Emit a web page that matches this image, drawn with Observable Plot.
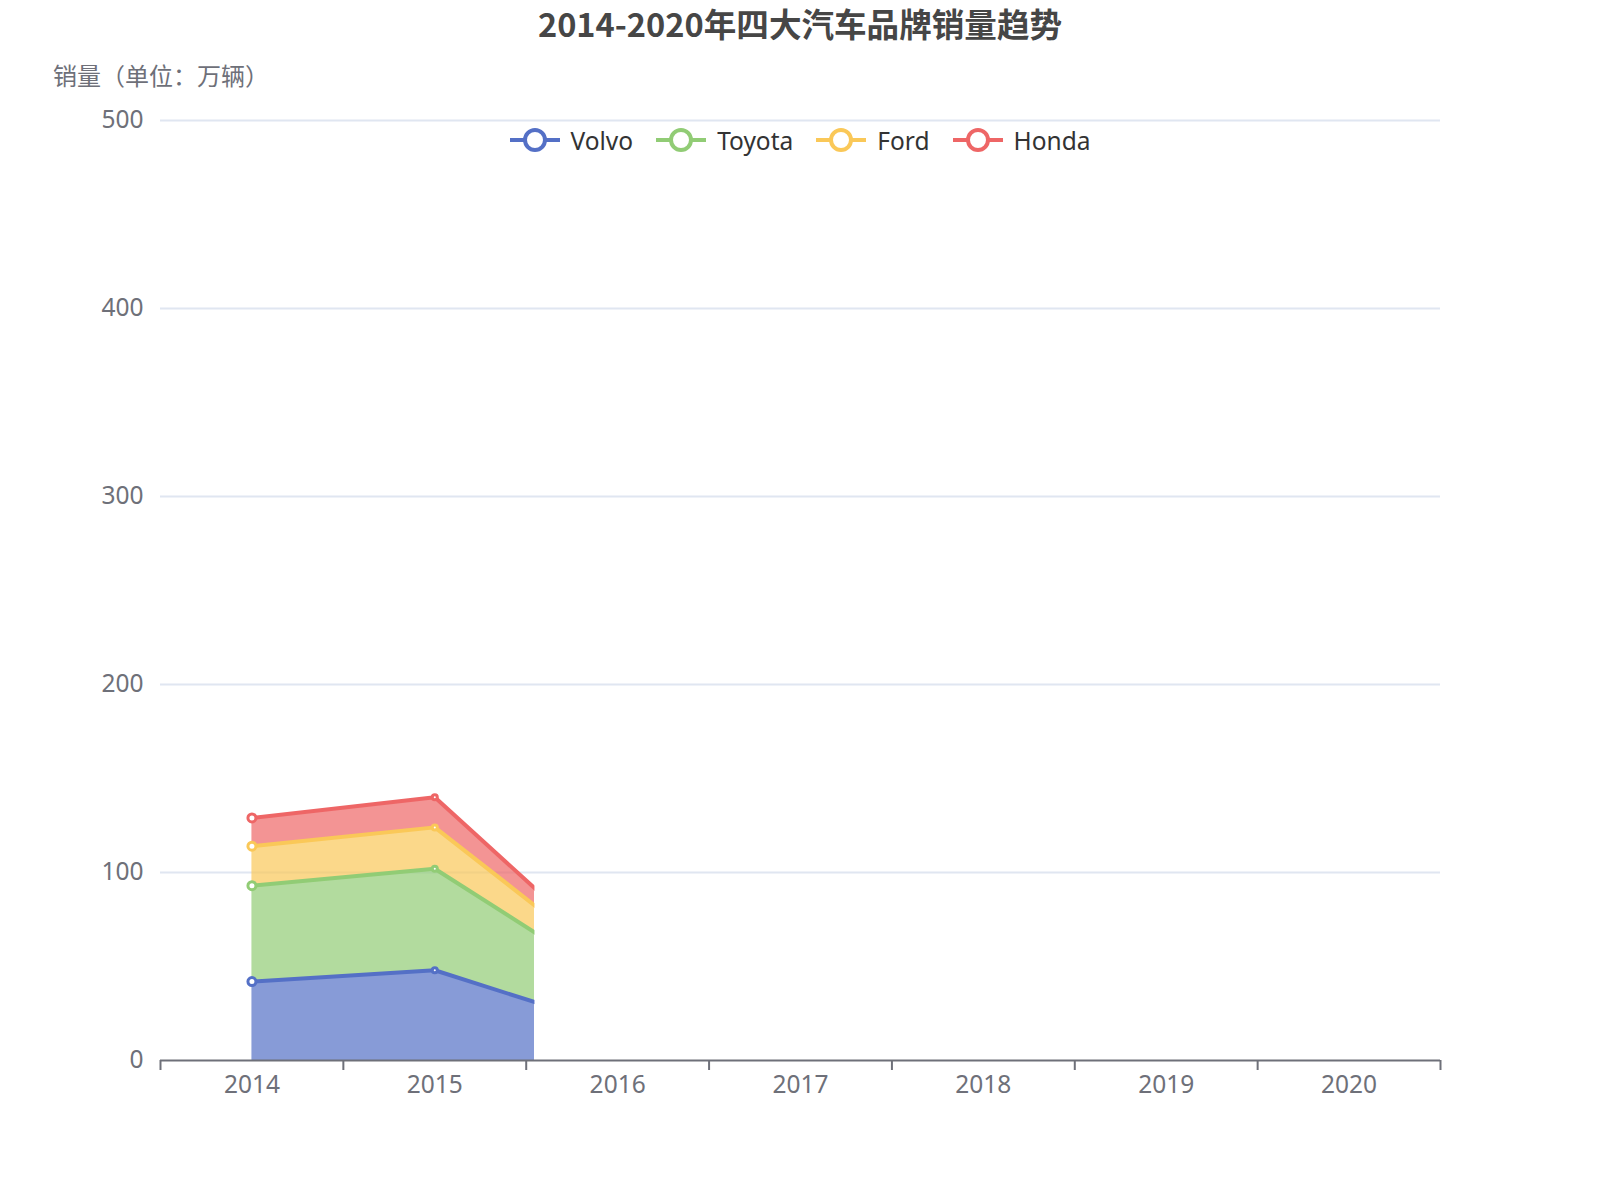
<!DOCTYPE html>
<html>
<head>
<meta charset="utf-8">
<script src="https://cdn.jsdelivr.net/npm/d3@7"></script>
<script src="https://cdn.jsdelivr.net/npm/@observablehq/plot@0.6"></script>
<style>
  body { margin: 0; background: #fff; font-family: "Noto Sans", "Noto Sans CJK SC", sans-serif; }
  #wrap { position: relative; width: 1600px; height: 1200px; overflow: hidden; }
  #chart { position: absolute; left: 0; top: 0; }
  #title { position: absolute; left: 0; top: 1px; width: 1600px; height: 44px; line-height: 44px; text-align: center;
           font-size: 32.6px; font-weight: bold; color: #464646; font-family: "Noto Sans CJK SC", sans-serif; }
  #yname { position: absolute; left: 53px; top: 60px; height: 30px; line-height: 30px; font-size: 24px; color: #6E7079;
           font-family: "Noto Sans CJK SC", sans-serif; white-space: nowrap; }
  #legend { position: absolute; left: 0; top: 123px; width: 1600px; height: 34px; display: flex; justify-content: center;
            align-items: center; gap: 23px; }
  .item { display: flex; align-items: center; gap: 11px; font-size: 24.5px; color: #333; }
  .item svg { display: block; }
</style>
</head>
<body>
<div id="wrap">
  <div id="chart"></div>
  <div id="title"></div>
  <div id="yname"></div>
  <div id="legend"></div>
</div>
<script>
// ---- data ----
const titleText = "2014-2020年四大汽车品牌销量趋势";
const yAxisName = "销量（单位：万辆）";
const years = [2014, 2015, 2016];
const brands = ["Volvo", "Toyota", "Ford", "Honda"];
const volvo = [42, 48, 17];
const toyota = [51, 54, 23];
const ford = [21, 22, 8];
const honda = [15, 16, 3.5];
const colors = ["#5470c6", "#91cc75", "#fac858", "#ee6666"];
const yTicks = [0, 100, 200, 300, 400, 500];
const xLabels = [2014, 2015, 2016, 2017, 2018, 2019, 2020];
// the reference is captured mid-animation: series drawn only up to this x value
const revealedTo = 2015.545;

const seriesByBrand = { Volvo: volvo, Toyota: toyota, Ford: ford, Honda: honda };
const data = brands.flatMap(b => years.map((yr, i) => ({ brand: b, year: yr, value: seriesByBrand[b][i] })));
const boundaries = d3.range(xLabels[0] - 0.5, xLabels[xLabels.length - 1] + 1, 1);

document.getElementById("title").textContent = titleText;
document.getElementById("yname").textContent = yAxisName;

// legend
const legend = document.getElementById("legend");
brands.forEach((b, i) => {
  const item = document.createElement("div");
  item.className = "item";
  item.innerHTML = `<svg width="50" height="28" viewBox="0 0 50 28">
      <line x1="0" x2="50" y1="14" y2="14" stroke="${colors[i]}" stroke-width="4"/>
      <circle cx="25" cy="14" r="10" fill="#fff" stroke="${colors[i]}" stroke-width="4"/>
    </svg><span>${b}</span>`;
  legend.appendChild(item);
});

const plot = Plot.plot({
  width: 1600,
  height: 1200,
  marginTop: 120,
  marginBottom: 140,
  marginLeft: 160,
  marginRight: 160,
  style: { fontFamily: '"Noto Sans", "Noto Sans CJK SC", sans-serif', background: "transparent", overflow: "visible" },
  x: { domain: [xLabels[0] - 0.5, xLabels[xLabels.length - 1] + 0.5] },
  y: { domain: [0, 500] },
  r: { type: "identity" },
  color: { domain: brands, range: colors },
  marks: [
    Plot.ruleY(yTicks.filter(d => d > 0), { stroke: "#E0E6F1", strokeWidth: 2 }),
    Plot.areaY(data, { x: "year", y: "value", z: "brand", fill: "brand", fillOpacity: 0.7 }),
    Plot.lineY(data, Plot.stackY2({ x: "year", y: "value", z: "brand", stroke: "brand", strokeWidth: 4, strokeLinejoin: "round" })),
    Plot.dot(data, Plot.stackY2({ x: "year", y: "value", z: "brand", stroke: "brand", fill: "#fff", strokeWidth: 3,
      r: d => d.year === 2015 ? 2.5 : 4 })),
    Plot.axisY({ ticks: yTicks, tickSize: 0, tickPadding: 17, fontSize: 24.5, fill: "#6E7079", label: null }),
    Plot.axisX({ ticks: boundaries, tickSize: 10, tickFormat: () => "", stroke: "#6E7079", strokeWidth: 2, label: null }),
    Plot.axisX({ ticks: xLabels, tickSize: 0, tickPadding: 15, fontSize: 24.5, fill: "#6E7079", tickFormat: d => String(d), label: null }),
    Plot.ruleY([0], { stroke: "#6E7079", strokeWidth: 2 })
  ]
});

document.getElementById("chart").appendChild(plot);

// clip the series to the revealed part (animation state of the reference)
const cx = plot.scale("x").apply(revealedTo);
const svg = d3.select(plot);
svg.append("defs").append("clipPath").attr("id", "reveal")
  .append("rect").attr("x", 0).attr("y", 0).attr("width", cx).attr("height", 1200);
svg.selectAll('g[aria-label="area"], g[aria-label="line"], g[aria-label="dot"]').attr("clip-path", "url(#reveal)");
</script>
</body>
</html>
